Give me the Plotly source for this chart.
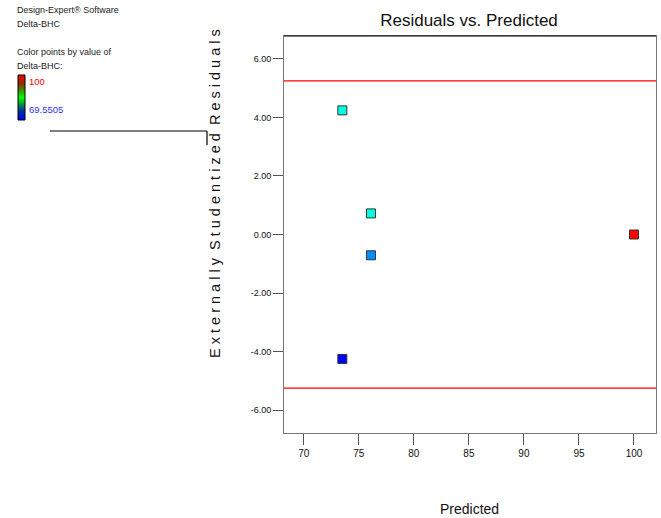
import plotly.graph_objects as go

predicted = [73.5, 76.1, 76.1, 73.5, 100.0]
residuals = [4.24, 0.72, -0.71, -4.25, 0.0]
point_colors = ["#00ffe0", "#00ffe0", "#0090ff", "#0000ff", "#ff0000"]
limit = 5.25
x_ticks = [70, 75, 80, 85, 90, 95, 100]
y_ticks = [-6, -4, -2, 0, 2, 4, 6]
y_tick_text = ["-6.00", "-4.00", "-2.00", "0.00", "2.00", "4.00", "6.00"]
cmin_label, cmax_label = "69.5505", "100"

FONT = "Liberation Sans Narrow, Arial Narrow, Liberation Sans, Arial, sans-serif"

W, H = 661, 518
L, R, T, B = 284, 5, 36, 85
PW, PH = W - L - R, H - T - B


def px(xr):
    return (xr - L) / PW


def py(yr):
    return (T + PH - yr) / PH


fig = go.Figure()
fig.add_trace(go.Scatter(
    x=predicted, y=residuals, mode="markers",
    marker=dict(symbol="square", size=9, color=point_colors,
                line=dict(color="#333333", width=1)),
    showlegend=False, hoverinfo="x+y"))

for yv in (limit, -limit):
    fig.add_shape(type="line", xref="paper", x0=0, x1=1, yref="y", y0=yv, y1=yv,
                  line=dict(color="#ff0000", width=1.2))

fig.add_shape(type="line", xref="paper", yref="paper", x0=0, x1=1, y0=1, y1=1,
              line=dict(color="black", width=1.2))

# stray line near left
fig.add_shape(type="line", xref="paper", yref="paper",
              x0=px(50), x1=px(207), y0=py(131), y1=py(131),
              line=dict(color="black", width=1.2))
fig.add_shape(type="line", xref="paper", yref="paper",
              x0=px(207), x1=px(207), y0=py(131), y1=py(145),
              line=dict(color="black", width=1.2))


# colour key bar
def interp(c1, c2, t):
    return tuple(round(a + (b - a) * t) for a, b in zip(c1, c2))


stops = [(0.0, (0, 0, 255)), (0.2, (0, 50, 150)), (0.35, (0, 150, 60)),
         (0.5, (0, 255, 0)), (0.65, (60, 150, 0)), (0.8, (140, 50, 0)),
         (1.0, (255, 0, 0))]


def scale(f):
    for (f0, c0), (f1, c1) in zip(stops[:-1], stops[1:]):
        if f <= f1:
            return interp(c0, c1, (f - f0) / (f1 - f0))
    return stops[-1][1]


n = 45
top, bot = 75, 120
for i in range(n):
    f = (i + 0.5) / n
    c = scale(f)
    y1 = bot - (bot - top) * i / n
    y0 = bot - (bot - top) * (i + 1) / n
    fig.add_shape(type="rect", xref="paper", yref="paper",
                  x0=px(18), x1=px(25), y0=py(y1), y1=py(y0),
                  fillcolor="rgb(%d,%d,%d)" % c, line=dict(width=0), layer="above")
fig.add_shape(type="rect", xref="paper", yref="paper",
              x0=px(18), x1=px(25), y0=py(bot), y1=py(top),
              line=dict(color="black", width=1), fillcolor="rgba(0,0,0,0)")

annos = [
    dict(text="Design-Expert® Software", x=15, y=10, color="#222", size=9),
    dict(text="Delta-BHC", x=15, y=24, color="#222", size=9),
    dict(text="Color points by value of", x=15, y=52, color="#222", size=9),
    dict(text="Delta-BHC:", x=15, y=66, color="#222", size=9),
    dict(text=cmax_label, x=27, y=81, color="#ff0000", size=9.5),
    dict(text=cmin_label, x=27, y=110, color="#3030ff", size=9.5),
]
for a in annos:
    fig.add_annotation(text=a["text"], xref="paper", yref="paper",
                       x=px(a["x"]), y=py(a["y"]),
                       xanchor="left", yanchor="middle", showarrow=False,
                       font=dict(family=FONT, size=a["size"], color=a["color"]))

fig.add_annotation(text="Predicted", xref="paper", yref="paper",
                   x=px(469), y=py(509), xanchor="center", yanchor="middle",
                   showarrow=False, font=dict(family=FONT, size=14, color="#111"))

ytitle = "  ".join(" ".join(w) for w in "Externally Studentized Residuals".split())
fig.add_annotation(text=ytitle, xref="paper", yref="paper",
                   x=px(215), y=py(194), xanchor="center", yanchor="middle",
                   textangle=-90, showarrow=False,
                   font=dict(family="Liberation Sans, Arial, sans-serif", size=14.5, color="#111"))

fig.update_layout(
    width=W, height=H,
    margin=dict(l=L, r=R, t=T, b=B),
    paper_bgcolor="white", plot_bgcolor="white",
    title=dict(text="Residuals vs. Predicted", x=469 / W, xanchor="center",
               y=1 - 20 / H, yanchor="middle",
               font=dict(family=FONT, size=17, color="#111")),
    xaxis=dict(range=[68.2, 102], tickvals=x_ticks, ticks="outside", ticklen=11,
               tickcolor="#555", showgrid=False, zeroline=False, showline=True,
               linecolor="#777", mirror=True,
               tickfont=dict(family=FONT, size=10, color="#111")),
    yaxis=dict(range=[-6.78, 6.78], tickvals=y_ticks, ticktext=y_tick_text,
               ticks="outside", ticklen=10, tickcolor="#555", showgrid=False,
               zeroline=False, showline=True, linecolor="#777", mirror=True,
               tickfont=dict(family=FONT, size=9, color="#111")),
)

fig.write_html("out.html", config={"displayModeBar": False},
               post_script="document.body.style.margin='0';document.body.style.overflow='hidden';")
